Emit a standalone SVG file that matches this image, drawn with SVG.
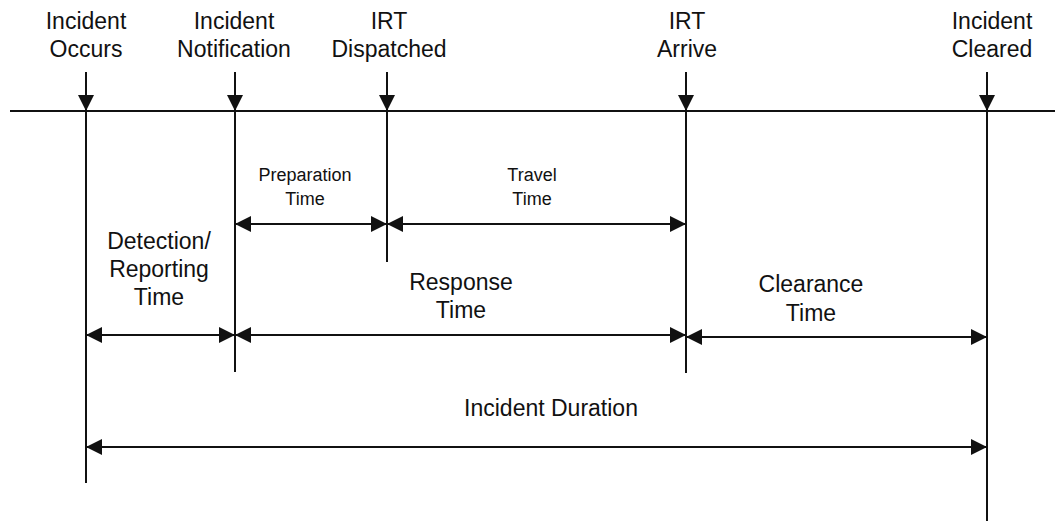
<svg xmlns="http://www.w3.org/2000/svg" width="1055" height="521" viewBox="0 0 1055 521">
<style>
text{font-family:"Liberation Sans",Arial,sans-serif;fill:#111;text-anchor:middle}
.big{font-size:23px}
.small{font-size:18px}
.ln{stroke:#111;stroke-width:2;fill:none}
.arr{stroke:#111;stroke-width:2;fill:none;marker-end:url(#ah)}
.dbl{stroke:#111;stroke-width:2;fill:none;marker-start:url(#ah);marker-end:url(#ah)}
</style>
<defs>
<marker id="ah" viewBox="0 0 16 16" refX="16" refY="8" markerWidth="16" markerHeight="16" markerUnits="userSpaceOnUse" orient="auto-start-reverse">
<path d="M0,0 L16,8 L0,16 z" fill="#111"/>
</marker>
</defs>
<rect width="1055" height="521" fill="#fff"/>
<g id="timeline"><line class="ln" x1="10" y1="111" x2="1055" y2="111"/></g>
<g id="incident-occurs">
<text class="big" x="86" y="29">Incident</text>
<text class="big" x="86" y="57">Occurs</text>
</g>
<g id="incident-notification">
<text class="big" x="234" y="29">Incident</text>
<text class="big" x="234" y="57">Notification</text>
</g>
<g id="irt-dispatched">
<text class="big" x="389" y="29">IRT</text>
<text class="big" x="389" y="57">Dispatched</text>
</g>
<g id="irt-arrive">
<text class="big" x="687" y="29">IRT</text>
<text class="big" x="687" y="57">Arrive</text>
</g>
<g id="incident-cleared">
<text class="big" x="992" y="29">Incident</text>
<text class="big" x="992" y="57">Cleared</text>
</g>
<g id="preparation-time">
<text class="small" x="305" y="181">Preparation</text>
<text class="small" x="305" y="205">Time</text>
</g>
<g id="travel-time">
<text class="small" x="532" y="181">Travel</text>
<text class="small" x="532" y="205">Time</text>
</g>
<g id="detection-time">
<text class="big" x="159" y="249">Detection/</text>
<text class="big" x="159" y="277">Reporting</text>
<text class="big" x="159" y="305">Time</text>
</g>
<g id="response-time">
<text class="big" x="461" y="290">Response</text>
<text class="big" x="461" y="318">Time</text>
</g>
<g id="clearance-time">
<text class="big" x="811" y="292">Clearance</text>
<text class="big" x="811" y="321">Time</text>
</g>
<g id="incident-duration">
<text class="big" x="551" y="416">Incident Duration</text>
</g>
<g id="connectors">
<line class="arr" x1="86" y1="72" x2="86" y2="111"/>
<line class="arr" x1="235" y1="72" x2="235" y2="111"/>
<line class="arr" x1="387" y1="72" x2="387" y2="111"/>
<line class="arr" x1="686" y1="72" x2="686" y2="111"/>
<line class="arr" x1="987" y1="72" x2="987" y2="111"/>
<line class="ln" x1="86" y1="111" x2="86" y2="483"/>
<line class="ln" x1="235" y1="111" x2="235" y2="372"/>
<line class="ln" x1="387" y1="111" x2="387" y2="262"/>
<line class="ln" x1="686" y1="111" x2="686" y2="373"/>
<line class="ln" x1="987" y1="111" x2="987" y2="521"/>
<line class="dbl" x1="235" y1="224" x2="387" y2="224"/>
<line class="dbl" x1="387" y1="224" x2="686" y2="224"/>
<line class="dbl" x1="86" y1="335" x2="235" y2="335"/>
<line class="dbl" x1="235" y1="335" x2="686" y2="335"/>
<line class="dbl" x1="686" y1="337" x2="987" y2="337"/>
<line class="dbl" x1="86" y1="447" x2="987" y2="447"/>
</g>
</svg>
